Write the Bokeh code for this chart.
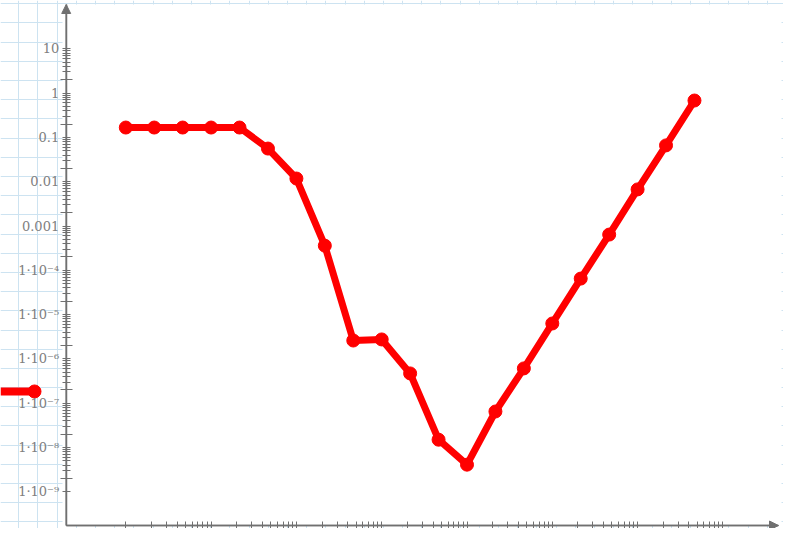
from bokeh.plotting import figure
from bokeh.models import (LogAxis, FixedTicker, Grid, Range1d, LinearScale,
                          BoxAnnotation, Arrow, NormalHead)
from bokeh.embed import file_html
from bokeh.resources import INLINE

# ---------------- data ----------------
x_vals = [1.0, 2.154, 4.642, 10.0, 21.54, 46.42, 100.0, 215.4, 464.2,
          1000.0, 2154.0, 4642.0, 1.0e4, 2.154e4, 4.642e4, 1.0e5,
          2.154e5, 4.642e5, 1.0e6, 2.154e6, 4.642e6]
y_vals = [0.167, 0.167, 0.167, 0.167, 0.167, 0.056, 0.0118, 3.6e-4,
          2.6e-6, 2.75e-6, 4.7e-7, 1.5e-8, 4.1e-9, 6.5e-8, 6.1e-7,
          6.3e-6, 6.5e-5, 6.4e-4, 6.7e-3, 0.066, 0.68]

y_tick_values = [1e-9, 1e-8, 1e-7, 1e-6, 1e-5, 1e-4, 1e-3, 1e-2, 1e-1, 1.0, 10.0]
y_tick_labels = ["1·10⁻⁹", "1·10⁻⁸", "1·10⁻⁷", "1·10⁻⁶", "1·10⁻⁵", "1·10⁻⁴",
                 "0.001", "0.01", "0.1", "1", "10"]
x_tick_decades = [1.0, 10.0, 100.0, 1e3, 1e4, 1e5, 1e6, 1e7]

trace_level = 1.84e-7          # red marker line left of the y axis

# ---------------- geometry / style ----------------
W, H = 783, 528
X0_PX, XD = 125.3, 85.3        # pixel of x=1, pixels per x decade
Y10_PX, YD = 48.3, 44.3        # pixel of y=10, pixels per y decade
RED = "#ff0000"
AX = "#707070"
TXT = "#808080"
GRIDC = "#cde3f1"


def xpx(px):
    return 10 ** ((px - X0_PX) / XD)


def ypx(px):
    return 10 ** (1 - (px - Y10_PX) / YD)


x_range = Range1d(xpx(0), xpx(W))
y_range = Range1d(ypx(H), ypx(0))
axis_x_start, axis_x_end = xpx(65.7), xpx(778)
axis_y_start, axis_y_end = ypx(525), ypx(4)

p = figure(width=W, height=H, x_axis_type="log", y_axis_type="log",
           x_range=x_range, y_range=y_range,
           x_axis_location=None, y_axis_location=None,
           toolbar_location=None, output_backend="svg", min_border=0,
           outline_line_color=None, background_fill_color="white",
           border_fill_color="white")
p.grid.visible = False

# grid-paper background in pixel space
p.extra_x_ranges = {"px": Range1d(0, W)}
p.extra_y_ranges = {"py": Range1d(H, 0)}
p.extra_x_scales = {"px": LinearScale()}
p.extra_y_scales = {"py": LinearScale()}
gx = [18.3 + 19.19 * k for k in range(0, 41)]
gy = [3.3 + 19.19 * k for k in range(0, 28)]
p.add_layout(Grid(dimension=0, ticker=FixedTicker(ticks=gx), x_range_name="px",
                  y_range_name="py", grid_line_color=GRIDC, grid_line_width=1))
p.add_layout(Grid(dimension=1, ticker=FixedTicker(ticks=gy), x_range_name="px",
                  y_range_name="py", grid_line_color=GRIDC, grid_line_width=1))

# white plotting area
p.add_layout(BoxAnnotation(left=xpx(62), right=xpx(781),
                           bottom=axis_y_start, top=axis_y_end,
                           fill_color="white", fill_alpha=1.0, line_color=None,
                           level="underlay"))

# ---------------- axes ----------------
y_minor = [m * d for d in y_tick_values[:-1] for m in range(3, 10)]
y_twos = [2 * d for d in y_tick_values[:-1]]
x_minor = [m * d for d in x_tick_decades[:-1] for m in range(1, 10)] + [x_tick_decades[-1]]

yaxis = LogAxis(fixed_location=axis_x_start, bounds=(axis_y_start, axis_y_end),
                ticker=FixedTicker(ticks=y_tick_values, minor_ticks=y_minor),
                major_label_overrides=dict(zip(y_tick_values, y_tick_labels)),
                axis_line_color=AX, axis_line_width=1.5,
                major_tick_line_color=AX, major_tick_in=4, major_tick_out=4,
                minor_tick_line_color=AX, minor_tick_in=4, minor_tick_out=4,
                major_label_standoff=3, major_label_text_font="DejaVu Serif",
                major_label_text_font_size="13px", major_label_text_color=TXT,
                major_label_text_font_style="normal")
p.add_layout(yaxis, "left")

yaxis2 = LogAxis(fixed_location=axis_x_start, bounds=(axis_y_start, axis_y_end),
                 ticker=FixedTicker(ticks=[], minor_ticks=y_twos),
                 axis_line_color=None, major_tick_line_color=None,
                 minor_tick_line_color=AX, minor_tick_in=6, minor_tick_out=6)
p.add_layout(yaxis2, "left")

xaxis = LogAxis(fixed_location=axis_y_start, bounds=(axis_x_start, axis_x_end),
                ticker=FixedTicker(ticks=[], minor_ticks=x_minor),
                axis_line_color=AX, axis_line_width=1.5,
                major_tick_line_color=None,
                minor_tick_line_color=AX, minor_tick_in=4, minor_tick_out=3)
p.add_layout(xaxis, "below")

p.add_layout(Arrow(end=NormalHead(size=9, fill_color=AX, line_color=AX),
                   x_start=axis_x_start, y_start=axis_y_start,
                   x_end=axis_x_start, y_end=axis_y_end,
                   line_color=AX, line_width=1.5))
p.add_layout(Arrow(end=NormalHead(size=9, fill_color=AX, line_color=AX),
                   x_start=axis_x_start, y_start=axis_y_start,
                   x_end=axis_x_end, y_end=axis_y_start,
                   line_color=AX, line_width=1.5))

# ---------------- data marks ----------------
p.line(x_vals, y_vals, line_color=RED, line_width=7, line_join="round")
p.scatter(x_vals, y_vals, marker="circle", size=13, fill_color=RED, line_color=RED)

trace_end = xpx(34)
p.line([x_range.start, trace_end], [trace_level, trace_level],
       line_color=RED, line_width=8)
p.scatter([trace_end], [trace_level], marker="circle", size=13,
          fill_color=RED, line_color=RED)

open("out.html", "w").write(file_html(p, INLINE))
